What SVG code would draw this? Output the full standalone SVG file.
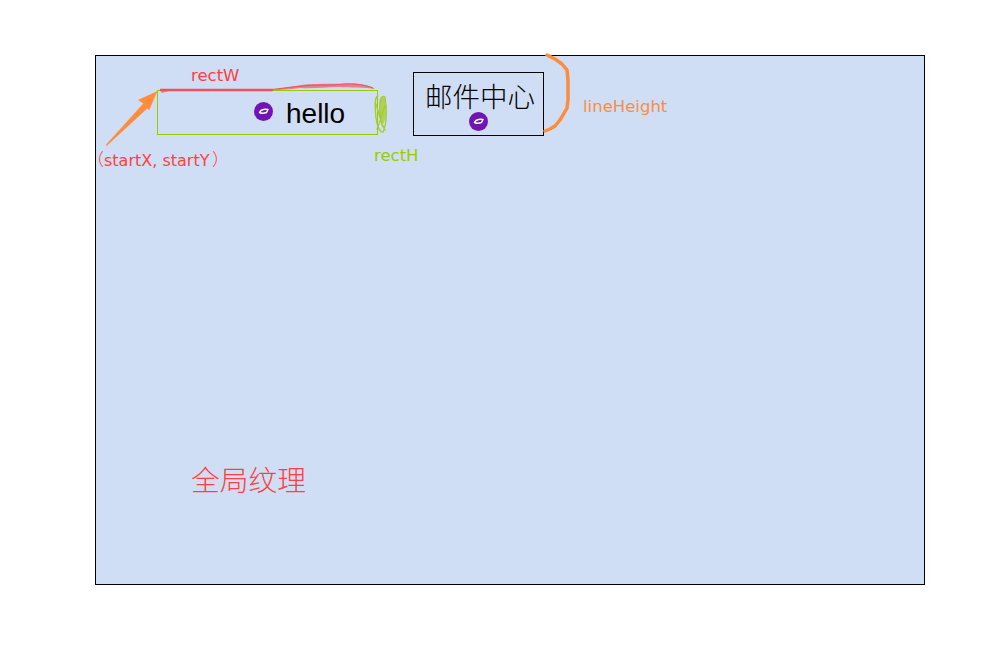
<svg xmlns="http://www.w3.org/2000/svg" width="1002" height="661" viewBox="0 0 1002 661">
<style>
.sans{font-family:"Liberation Sans",Arial,sans-serif}
.cjk{font-family:"Noto Sans CJK SC","Liberation Sans",sans-serif}
.note{font-family:"DejaVu Sans","Liberation Sans",sans-serif;font-size:16.5px}
.ink{fill:none;stroke-linecap:round;stroke-linejoin:round}
.badge{fill:#7214b4}
.badge-g{fill:none;stroke:#fff;stroke-width:1.500;stroke-linejoin:round}
</style>
<rect width="1002" height="661" fill="#fff"/>
<g id="canvas"><rect x="95.500" y="55.500" width="829" height="529" fill="#cfdef4" stroke="#000" stroke-width="1"/></g>
<g id="node-hello">
<rect x="157.500" y="90.500" width="220" height="44" fill="none" stroke="#99cc00" stroke-width="1" shape-rendering="crispEdges"/>
<circle cx="263.500" cy="111.500" r="9.500" class="badge"/>
<path d="M259.500 112.500L261 110.500C263 109.500 265.500 109 268 109.500L266.500 112.500C264 113.500 261.500 113.500 259.500 112.500Z" class="badge-g"/>
<text x="286" y="123" class="sans" font-size="28" fill="#000">hello</text>
</g>
<g id="node-mail">
<rect x="413.500" y="72.500" width="130" height="63" fill="none" stroke="#000" stroke-width="1"/>
<text x="425" y="107" class="cjk" font-size="27.500" font-weight="300" fill="#000">邮件中心</text>
<circle cx="478.500" cy="121.500" r="9.500" class="badge"/>
<path d="M474.500 122.500L476 120.500C478 119.500 480.500 119 483 119.500L481.500 122.500C479 123.500 476.500 123.500 474.500 122.500Z" class="badge-g"/>
</g>
<g id="connectors">
<path d="M106 145L106.800 145.600L147.500 108L149 110L157 91.500L138.500 100L143.500 103.500Z" fill="#ff8c3c" stroke="#ff8c3c" stroke-width=".5" stroke-linejoin="round"/>
<path d="M160 90L172 90L162 93Z" fill="#e8808c"/>
<path d="M272 90C282 88 296 86 305 84.500C312 83.500 330 84 345 83.500C358 83 370 85 375 89C365 87 352 88 338 87C326 87 312 89 300 88C290 89.500 280 90 272 90Z" fill="#e8808c"/>
<path d="M161 90H272" class="ink" stroke="#f0505a" stroke-width="2.500"/>
<path d="M272 89.500C285 88 296 86.500 308 85.500C318 85 330 85.500 345 84C356 83.500 366 85 373 88" class="ink" stroke="#f0505a" stroke-width="1"/>
<path d="M378 96C374 97 375 108 376 118C377 126 380 133 383 132C387 124 387 108 385 97C381 94 379 103 380 114C381 122 382 127 384 128M376 104C379 114 381 124 385 130M385 106C382 114 380 122 377 129" class="ink" stroke="#a4cc2a" stroke-width="1.300"/>
<path d="M379.500 100C379.500 108 380 118 382 125C386.500 122 386.500 106 384.500 97C382 96 380 98 379.500 100Z" fill="#a4cc2a" opacity=".75"/>
<path d="M547 55L555 59L562 64L567 70L568 80L568 100L567 108L563 115L560 120L555 126L550 129L545 131" class="ink" stroke="#ff8c3c" stroke-width="3.500"/>
</g>
<g id="labels">
<text x="191" y="81" class="note" fill="#ff4040">rectW</text>
<text x="87" y="166" class="cjk" font-size="17" font-weight="300" fill="#ff4040">（</text>
<text x="104" y="166" class="note" style="font-size:16px" fill="#ff4040">startX, startY</text>
<text x="212" y="166" class="cjk" font-size="17" font-weight="300" fill="#ff4040">）</text>
<text x="374" y="161" class="note" style="font-size:16.500px" fill="#99cc00">rectH</text>
<text x="583" y="112" class="note" fill="#ff8c3c">lineHeight</text>
<text x="191" y="491" class="cjk" font-size="28.750" font-weight="300" fill="#ff4040">全局纹理</text>
</g>
</svg>
